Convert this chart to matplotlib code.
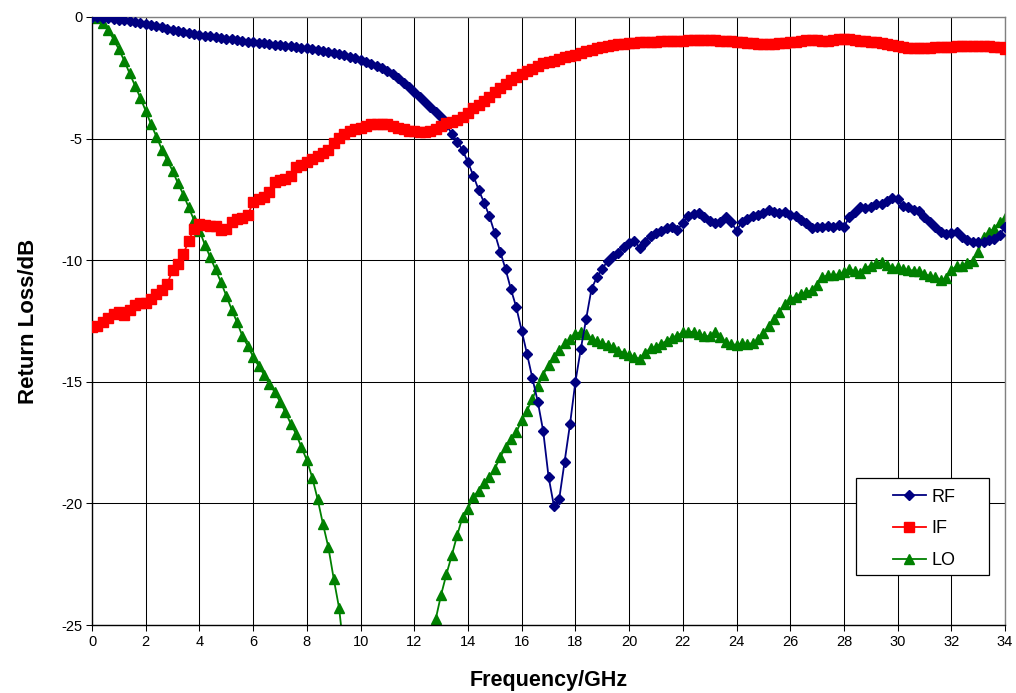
import numpy as np
import matplotlib
matplotlib.use("Agg")
import matplotlib.pyplot as plt
from matplotlib.patches import Rectangle

plt.rcParams['font.family'] = ['Liberation Sans', 'DejaVu Sans']
plt.rcParams['axes.unicode_minus'] = False

# Frequency grid (GHz), 0.2 GHz step
freq = [round(0.2 * i, 1) for i in range(171)]

rf = [
    0.0, -0.01, -0.03, -0.05, -0.08, -0.11, -0.14, -0.18, -0.21, -0.25,
    -0.28, -0.33, -0.38, -0.43, -0.48, -0.53, -0.58, -0.62, -0.66, -0.70,
    -0.74, -0.77, -0.80, -0.83, -0.86, -0.89, -0.92, -0.95, -0.98, -1.01,
    -1.04, -1.06, -1.09, -1.11, -1.14, -1.16, -1.19, -1.21, -1.24, -1.27,
    -1.29, -1.32, -1.35, -1.39, -1.43, -1.48, -1.53, -1.58, -1.64, -1.70,
    -1.77, -1.84, -1.92, -2.00, -2.10, -2.22, -2.36, -2.52, -2.70, -2.88,
    -3.07, -3.28, -3.50, -3.69, -3.89, -4.13, -4.45, -4.80, -5.13, -5.47,
    -5.98, -6.52, -7.12, -7.63, -8.20, -8.90, -9.65, -10.37, -11.20, -11.94,
    -12.90, -13.86, -14.86, -15.82, -17.02, -18.90, -20.10, -19.80, -18.28, -16.74,
    -15.00, -13.66, -12.41, -11.18, -10.70, -10.37, -10.02, -9.83, -9.69, -9.44,
    -9.28, -9.21, -9.51, -9.24, -9.00, -8.90, -8.79, -8.69, -8.62, -8.76,
    -8.46, -8.18, -8.10, -8.07, -8.21, -8.37, -8.48, -8.42, -8.24, -8.42,
    -8.79, -8.42, -8.32, -8.18, -8.14, -8.07, -7.94, -8.03, -8.07, -8.00,
    -8.14, -8.18, -8.35, -8.46, -8.69, -8.62, -8.65, -8.59, -8.65, -8.55,
    -8.65, -8.21, -8.00, -7.83, -7.87, -7.83, -7.69, -7.69, -7.55, -7.46,
    -7.50, -7.77, -7.80, -7.94, -7.96, -8.24, -8.42, -8.62, -8.83, -8.92,
    -8.89, -8.83, -9.03, -9.17, -9.24, -9.24, -9.24, -9.17, -9.14, -8.96,
    -8.62,
]

if_ = [
    -12.75, -12.70, -12.55, -12.37, -12.22, -12.12, -12.25, -12.05, -11.85, -11.77,
    -11.75, -11.60, -11.38, -11.22, -10.98, -10.40, -10.15, -9.75, -9.20, -8.70,
    -8.52, -8.56, -8.59, -8.60, -8.76, -8.73, -8.42, -8.30, -8.28, -8.15,
    -7.60, -7.47, -7.41, -7.20, -6.80, -6.72, -6.68, -6.52, -6.18, -6.10,
    -5.98, -5.84, -5.70, -5.60, -5.45, -5.20, -4.98, -4.82, -4.70, -4.62,
    -4.57, -4.48, -4.42, -4.38, -4.38, -4.42, -4.50, -4.57, -4.62, -4.67,
    -4.70, -4.72, -4.72, -4.70, -4.60, -4.47, -4.36, -4.31, -4.22, -4.12,
    -3.95, -3.75, -3.60, -3.46, -3.28, -3.10, -2.92, -2.74, -2.58, -2.45,
    -2.34, -2.24, -2.13, -2.02, -1.91, -1.84, -1.79, -1.72, -1.66, -1.61,
    -1.55, -1.48, -1.41, -1.34, -1.28, -1.24, -1.20, -1.16, -1.13, -1.10,
    -1.08, -1.06, -1.04, -1.03, -1.02, -1.01, -1.00, -0.99, -0.98, -0.97,
    -0.97, -0.96, -0.96, -0.95, -0.95, -0.95, -0.96, -0.97, -0.98, -1.00,
    -1.02, -1.04, -1.06, -1.08, -1.10, -1.11, -1.11, -1.11, -1.09, -1.07,
    -1.04, -1.01, -0.98, -0.96, -0.95, -0.96, -0.97, -0.97, -0.95, -0.92,
    -0.90, -0.91, -0.94, -0.97, -0.99, -1.01, -1.03, -1.05, -1.10, -1.14,
    -1.19, -1.24, -1.27, -1.29, -1.28, -1.27, -1.26, -1.25, -1.24, -1.23,
    -1.22, -1.21, -1.20, -1.20, -1.19, -1.19, -1.20, -1.21, -1.22, -1.25,
    -1.30,
]

lo = [
    0.0, -0.05, -0.25, -0.52, -0.92, -1.33, -1.80, -2.32, -2.82, -3.33,
    -3.86, -4.42, -4.92, -5.45, -5.88, -6.33, -6.84, -7.30, -7.83, -8.36,
    -8.78, -9.36, -9.87, -10.38, -10.90, -11.46, -12.03, -12.55, -13.12, -13.53,
    -13.97, -14.34, -14.70, -15.09, -15.41, -15.82, -16.25, -16.72, -17.15, -17.70,
    -18.22, -18.94, -19.82, -20.85, -21.80, -23.10, -24.30, -26.30, -27.40, -28.30,
    -29.00, -29.50, -29.80, -30.00, -30.00, -29.90, -29.60, -29.20, -28.70, -28.10,
    -27.50, -26.90, -26.30, -25.80, -24.75, -23.75, -22.90, -22.12, -21.30, -20.55,
    -20.22, -19.72, -19.47, -19.18, -18.90, -18.57, -18.10, -17.70, -17.36, -17.08,
    -16.57, -16.18, -15.70, -15.17, -14.70, -14.31, -13.99, -13.69, -13.42, -13.25,
    -13.03, -12.96, -13.05, -13.22, -13.33, -13.42, -13.47, -13.57, -13.72, -13.80,
    -13.90, -14.00, -14.05, -13.80, -13.62, -13.56, -13.43, -13.32, -13.18, -13.10,
    -12.97, -12.96, -12.94, -13.04, -13.13, -13.12, -12.94, -13.16, -13.38, -13.44,
    -13.49, -13.42, -13.45, -13.41, -13.25, -13.00, -12.72, -12.43, -12.12, -11.82,
    -11.60, -11.50, -11.40, -11.30, -11.24, -11.00, -10.70, -10.62, -10.61, -10.58,
    -10.49, -10.35, -10.46, -10.51, -10.33, -10.22, -10.10, -10.08, -10.20, -10.32,
    -10.30, -10.38, -10.40, -10.43, -10.44, -10.57, -10.65, -10.70, -10.81, -10.75,
    -10.40, -10.24, -10.23, -10.12, -10.02, -9.65, -9.05, -8.84, -8.70, -8.43,
    -8.25,
]

series_labels = ["RF", "IF", "LO"]
x_ticks = list(range(0, 35, 2))
y_ticks = [0, -5, -10, -15, -20, -25]

fig = plt.figure(figsize=(10.16, 6.93), dpi=100)
ax = fig.add_axes([0.0906, 0.0981, 0.8986, 0.8774])

ax.plot(freq, rf, color="#000080", marker="D", markersize=5.2, linewidth=1.3,
        label=series_labels[0], zorder=3)
ax.plot(freq, if_, color="#FF0000", marker="s", markersize=7, linewidth=1.3,
        label=series_labels[1], zorder=4)
ax.plot(freq, lo, color="#008000", marker="^", markersize=7, linewidth=1.3,
        label=series_labels[2], zorder=2)

ax.set_xlim(0, 34)
ax.set_ylim(-25, 0)
ax.set_xticks(x_ticks)
ax.set_yticks(y_ticks)
ax.set_xticklabels([str(t) for t in x_ticks], fontsize=10.5)
ax.set_yticklabels([str(t) for t in y_ticks], fontsize=10.5)
ax.grid(True, color="black", linewidth=0.75)
ax.set_axisbelow(True)
ax.tick_params(direction="out", length=4, width=0.75, color="black", pad=3)

for side in ["left", "bottom"]:
    ax.spines[side].set_color("black")
    ax.spines[side].set_linewidth(1.0)
for side in ["top", "right"]:
    ax.spines[side].set_color("#808080")
    ax.spines[side].set_linewidth(1.0)

ax.set_xlabel("Frequency/GHz", fontsize=15.5, fontweight="bold", labelpad=15)
ax.set_ylabel("Return Loss/dB", fontsize=16, fontweight="bold", labelpad=16)

# Legend box (drawn as a rectangle, legend entries placed inside)
box = Rectangle((0.8368, 0.0822), 0.1457, 0.1595, transform=ax.transAxes,
                facecolor="white", edgecolor="black", linewidth=0.9, zorder=5)
ax.add_patch(box)
leg = ax.legend(loc="center left", bbox_to_anchor=(0.877, 0.158), fontsize=13,
                frameon=False, handlelength=1.85, labelspacing=0.82,
                handletextpad=0.3, borderpad=0, borderaxespad=0,
                markerscale=1.05)
leg.set_zorder(6)

fig.savefig("out.png", dpi=100)
